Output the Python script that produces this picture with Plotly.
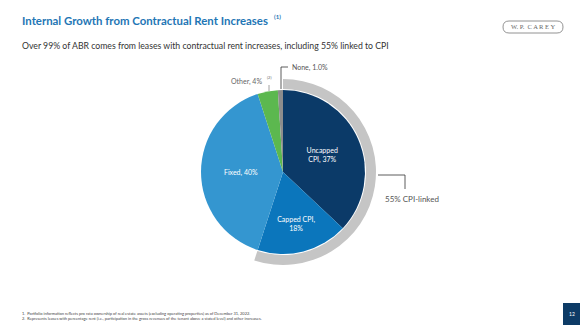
import plotly.graph_objects as go

W, H = 580, 325

# ABR breakdown by rent increase type
slice_labels = ["Uncapped CPI", "Capped CPI", "Fixed", "Other", "None"]
slice_values = [37, 18, 40, 4, 1.0]
slice_text = ["Uncapped<br>CPI, 37%", "Capped CPI,<br>18%", "Fixed, 40%", "", ""]
slice_colors = ["#0b3a68", "#0b76bc", "#3496d0", "#5cb84f", "#8d8d8d"]

# CPI-linked share shown as an outer ring
ring_labels = ["CPI-linked", "Not CPI-linked"]
ring_values = [55, 45]

def px(x):
    return x / W

def py(y):
    return 1 - y / H

cx, cy = 283, 172
r_pie, r_ring = 82, 93

fig = go.Figure()

fig.add_trace(go.Pie(
    labels=ring_labels, values=ring_values, sort=False, direction="clockwise",
    rotation=0, hole=(r_pie + 1) / r_ring, textinfo="none", hoverinfo="skip",
    marker=dict(colors=["#c5c5c5", "rgba(0,0,0,0)"], line=dict(width=0)),
    domain=dict(x=[px(cx - r_ring), px(cx + r_ring)], y=[py(cy + r_ring), py(cy - r_ring)]),
    showlegend=False,
))

fig.add_trace(go.Pie(
    labels=slice_labels, values=slice_values, sort=False, direction="clockwise",
    rotation=0, text=slice_text, texttemplate="%{text}", textposition="inside",
    insidetextorientation="horizontal",
    textfont=dict(family="Lato", size=7, color="white"),
    marker=dict(colors=slice_colors, line=dict(width=0)),
    domain=dict(x=[px(cx - r_pie), px(cx + r_pie)], y=[py(cy + r_pie), py(cy - r_pie)]),
    showlegend=False,
))

shapes = []
annotations = []

def line(x0, y0, x1, y1, color="#333333", width=0.8):
    shapes.append(dict(type="line", xref="paper", yref="paper",
                       x0=px(x0), y0=py(y0), x1=px(x1), y1=py(y1),
                       line=dict(color=color, width=width)))

def text(x, y, s, size, color, family="Lato", xanchor="left", yanchor="middle", **kw):
    annotations.append(dict(x=px(x), y=py(y), xref="paper", yref="paper", text=s,
                            showarrow=False, xanchor=xanchor, yanchor=yanchor,
                            font=dict(family=family, size=size, color=color), **kw))

# Title and subtitle
text(20, 20, "<b>Internal Growth from Contractual Rent Increases</b>", 11.4, "#1f76b5")
text(272, 16.5, "<b>(1)</b>", 6, "#1f76b5")
text(20, 46, "Over 99% of ABR comes from leases with contractual rent increases, including 55% linked to CPI", 8.7, "#333333")

# Logo
x0, x1, y0, y1 = 503, 563, 21, 33
rr = 6
path = (f"M {px(x0 + rr)},{py(y0)} L {px(x1 - rr)},{py(y0)} "
        f"Q {px(x1)},{py(y0)} {px(x1)},{py((y0 + y1) / 2)} "
        f"Q {px(x1)},{py(y1)} {px(x1 - rr)},{py(y1)} "
        f"L {px(x0 + rr)},{py(y1)} "
        f"Q {px(x0)},{py(y1)} {px(x0)},{py((y0 + y1) / 2)} "
        f"Q {px(x0)},{py(y0)} {px(x0 + rr)},{py(y0)} Z")
shapes.append(dict(type="path", xref="paper", yref="paper", path=path,
                   line=dict(color="#777777", width=0.8)))
text(533, 27, "W. P.  C A R E Y", 6.5, "#666666", family="Liberation Serif", xanchor="center")

# None label with leader
line(281, 89, 281, 67)
line(281, 67, 288, 67)
text(290, 67, "None, 1.0%", 7, "#555555")

# Other label with leader
line(269, 85, 269, 91, color="#888888")
text(264, 81, "Other, 4%", 7, "#666666", xanchor="right")
text(265, 77.5, "(2)", 4, "#666666")

# CPI-linked bracket
line(378, 175, 405, 175)
line(405, 175, 405, 189)
text(383, 199, "55% CPI-linked", 8, "#555555")

# Footnotes
text(20, 313, "1.  Portfolio information reflects pro rata ownership of real estate assets (excluding operating properties) as of December 31, 2022.", 4, "#444444")
text(20, 318, "2.  Represents leases with percentage rent (i.e., participation in the gross revenues of the tenant above a stated level) and other increases.", 4, "#444444")

# Page number box
shapes.append(dict(type="rect", xref="paper", yref="paper", x0=px(563), x1=1, y0=0, y1=py(303),
                   fillcolor="#0d3b66", line=dict(width=0)))
text(571.5, 314, "12", 5, "white", xanchor="center")

fig.update_layout(
    width=W, height=H, margin=dict(l=0, r=0, t=0, b=0),
    paper_bgcolor="white", plot_bgcolor="white",
    shapes=shapes, annotations=annotations,
)

fig.write_html("out.html")
